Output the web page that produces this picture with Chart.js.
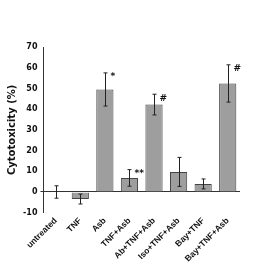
<!DOCTYPE html>
<html>
<head>
<meta charset="utf-8">
<script src="https://cdn.jsdelivr.net/npm/chart.js@4.4.0/dist/chart.umd.min.js"></script>
<style>
  html, body { margin: 0; padding: 0; background: #fff; }
  #wrap { width: 266px; height: 278px; }
</style>
</head>
<body>
<div id="wrap"><canvas id="myChart" width="266" height="278"></canvas></div>
<script>
const categories = ['untreated', 'TNF', 'Asb', 'TNF+Asb', 'Ab+TNF+Asb', 'Iso+TNF+Asb', 'Bay+TNF', 'Bay+TNF+Asb'];
const cytotoxicity = [0, -3.4, 49.5, 6.8, 42.2, 9.7, 3.9, 52.4];
const errors = [3, 2.4, 8, 4, 5, 7, 2.4, 9];
const marks = ['', '', '*', '**', '#', '', '', '#'];
const yTicks = [-10, 0, 10, 20, 30, 40, 50, 60, 70];

const font = { family: 'DejaVu Sans', weight: 'bold', size: 8 };

// error bars + significance marks
const errorBarPlugin = {
    id: 'errorBars',
    afterDatasetsDraw(chart) {
        const ctx = chart.ctx;
        const x = chart.scales.x;
        const y = chart.scales.y;
        ctx.save();
        ctx.strokeStyle = '#222';
        ctx.lineWidth = 1;
        categories.forEach((c, i) => {
            const cx = Math.round(x.getPixelForValue(i)) + 0.5;
            const top = y.getPixelForValue(cytotoxicity[i] + errors[i]);
            const bot = y.getPixelForValue(cytotoxicity[i] - errors[i]);
            ctx.beginPath();
            ctx.moveTo(cx, top); ctx.lineTo(cx, bot);
            ctx.moveTo(cx - 2, top); ctx.lineTo(cx + 2, top);
            ctx.moveTo(cx - 2, bot); ctx.lineTo(cx + 2, bot);
            ctx.stroke();
            if (marks[i]) {
                ctx.fillStyle = '#111';
                ctx.font = 'bold 9px "DejaVu Sans"';
                ctx.textAlign = 'left';
                ctx.textBaseline = 'middle';
                ctx.fillText(marks[i], cx + 5, top + 4);
            }
        });
        ctx.restore();
    }
};

new Chart(document.getElementById('myChart'), {
    type: 'bar',
    data: {
        labels: categories,
        datasets: [{
            data: cytotoxicity,
            backgroundColor: '#9e9e9e',
            borderColor: '#444',
            borderWidth: 1,
            barPercentage: 0.7,
            categoryPercentage: 1.0
        }]
    },
    options: {
        responsive: false,
        animation: false,
        layout: { padding: { top: 47, right: 26, left: 4, bottom: 11 } },
        plugins: { legend: { display: false }, tooltip: { enabled: false } },
        scales: {
            x: {
                grid: { display: false, drawTicks: false },
                border: { display: false },
                ticks: {
                    color: '#111',
                    font: { family: 'Liberation Sans', weight: 'bold', size: 8.5 },
                    maxRotation: 45,
                    minRotation: 45,
                    padding: 3
                }
            },
            y: {
                min: -10,
                max: 70,
                afterBuildTicks(axis) { axis.ticks = yTicks.map(v => ({ value: v })); },
                grid: {
                    drawOnChartArea: true,
                    drawTicks: true,
                    tickLength: 3,
                    color: ctx => (ctx.tick && ctx.tick.value === 0) ? '#333' : 'rgba(0,0,0,0)',
                    lineWidth: 1
                },
                border: { display: true, color: '#333', width: 1 },
                ticks: { color: '#111', font: font, padding: 3 },
                title: {
                    display: true,
                    text: 'Cytotoxicity (%)',
                    color: '#111',
                    font: { family: 'DejaVu Sans', weight: 'bold', size: 10 },
                    padding: 2
                }
            }
        }
    },
    plugins: [errorBarPlugin]
});
</script>
</body>
</html>
